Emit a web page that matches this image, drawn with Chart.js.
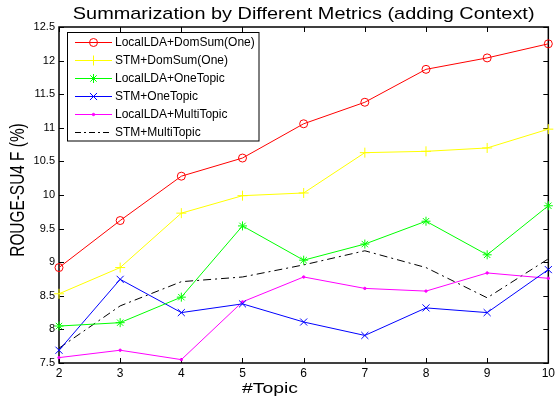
<!DOCTYPE html>
<html><head><meta charset="utf-8">
<script src="https://cdn.jsdelivr.net/npm/chart.js@4/dist/chart.umd.min.js"></script>
<style>html,body{margin:0;padding:0;background:#fff;} #wrap{width:558px;height:400px;}</style>
</head><body><div id="wrap"><canvas id="c" width="558" height="400"></canvas></div>
<script>
// ---- data ----
const topics = [2, 3, 4, 5, 6, 7, 8, 9, 10];
const localLdaDomSum     = [8.92, 9.62, 10.28, 10.55, 11.06, 11.38, 11.87, 12.04, 12.25];
const stmDomSum          = [8.53, 8.92, 9.73, 9.99, 10.03, 10.63, 10.65, 10.70, 10.98];
const localLdaOneTopic   = [8.05, 8.10, 8.48, 9.54, 9.03, 9.27, 9.61, 9.11, 9.84];
const stmOneTopic        = [7.69, 8.745, 8.25, 8.38, 8.11, 7.91, 8.32, 8.25, 8.89];
const localLdaMultiTopic = [7.58, 7.69, 7.55, 8.41, 8.78, 8.61, 8.57, 8.84, 8.76];
const stmMultiTopic      = [7.72, 8.35, 8.71, 8.78, 8.96, 9.17, 8.92, 8.47, 9.05];
const seriesNames = ['LocalLDA+DomSum(One)', 'STM+DomSum(One)', 'LocalLDA+OneTopic',
                     'STM+OneTopic', 'LocalLDA+MultiTopic', 'STM+MultiTopic'];
const yTickLabels = ['7.5', '8', '8.5', '9', '9.5', '10', '10.5', '11', '11.5', '12', '12.5'];
const xTickLabels = ['2', '3', '4', '5', '6', '7', '8', '9', '10'];
const yTickMin = 7.5, yTickMax = 12.5, yTickStep = 0.5;
const xTickMin = 2, xTickMax = 10, xTickStep = 1;
const chartTitle = 'Summarization by Different Metrics (adding Context)';
const xTitle = '#Topic';
const yTitle = 'ROUGE-SU4 F (%)';

const FONT = '"Liberation Sans", Arial, Helvetica, sans-serif';
const pts = arr => topics.map((t, i) => ({x: t, y: arr[i]}));

const styles = [
  {color: '#ff0000', pointStyle: 'circle', radius: 4, fill: 'rgba(0,0,0,0)', dash: []},
  {color: '#ffff00', pointStyle: 'cross', radius: 5, fill: '#ffff00', dash: []},
  {color: '#00ff00', pointStyle: 'star', radius: 4.5, fill: '#00ff00', dash: []},
  {color: '#0000ff', pointStyle: 'crossRot', radius: 5, fill: '#0000ff', dash: []},
  {color: '#ff00ff', pointStyle: 'circle', radius: 1.2, fill: '#ff00ff', dash: []},
  {color: '#000000', pointStyle: false, radius: 0, fill: '#000', dash: [8, 4, 2, 4]}
];
const seriesData = [localLdaDomSum, stmDomSum, localLdaOneTopic, stmOneTopic, localLdaMultiTopic, stmMultiTopic];

const datasets = seriesData.map((d, i) => ({
  label: seriesNames[i],
  data: pts(d),
  borderColor: styles[i].color,
  backgroundColor: styles[i].fill,
  borderWidth: 1,
  borderDash: styles[i].dash,
  pointStyle: styles[i].pointStyle,
  pointRadius: styles[i].radius,
  pointBorderColor: styles[i].color,
  pointBackgroundColor: styles[i].fill,
  pointBorderWidth: 1,
  pointHoverRadius: styles[i].radius,
  tension: 0,
  clip: false
}));

function stretchedText(ctx, text, x, y, size, sx, rot) {
  ctx.save();
  ctx.translate(x, y);
  if (rot) ctx.rotate(rot);
  ctx.scale(sx, 1);
  ctx.font = size + 'px ' + FONT;
  ctx.fillStyle = '#000';
  ctx.textAlign = 'center';
  ctx.textBaseline = 'alphabetic';
  ctx.fillText(text, 0, 0);
  ctx.restore();
}

function drawMarker(ctx, style, x, y) {
  if (!style.pointStyle) return;
  if (Chart.helpers && Chart.helpers.drawPoint) {
    ctx.save();
    ctx.strokeStyle = style.color;
    ctx.fillStyle = style.fill;
    ctx.lineWidth = 1;
    Chart.helpers.drawPoint(ctx, {pointStyle: style.pointStyle, radius: style.radius, rotation: 0, borderWidth: 1}, x, y);
    ctx.restore();
  }
}

const framePlugin = {
  id: 'frame',
  beforeDatasetsDraw(chart) {
    const {ctx, chartArea: a, scales: {x, y}} = chart;
    ctx.save();
    ctx.strokeStyle = '#000';
    ctx.lineWidth = 1;
    ctx.beginPath();
    x.ticks.forEach(t => {
      const px = Math.round(x.getPixelForValue(t.value)) + 0.5;
      ctx.moveTo(px, a.bottom); ctx.lineTo(px, a.bottom - 5);
      ctx.moveTo(px, a.top); ctx.lineTo(px, a.top + 5);
    });
    y.ticks.forEach(t => {
      const py = Math.round(y.getPixelForValue(t.value)) + 0.5;
      ctx.moveTo(a.left, py); ctx.lineTo(a.left + 5, py);
      ctx.moveTo(a.right, py); ctx.lineTo(a.right - 5, py);
    });
    ctx.stroke();
    ctx.lineWidth = 1.5;
    ctx.strokeRect(a.left, a.top, a.right - a.left, a.bottom - a.top);
    ctx.restore();
  },
  afterDraw(chart) {
    const {ctx, chartArea: a} = chart;
    const cx = (a.left + a.right) / 2;
    stretchedText(ctx, chartTitle, cx, 18.5, 17, 1.17, 0);
    stretchedText(ctx, xTitle, 270, 392.5, 15, 1.29, 0);
    stretchedText(ctx, yTitle, 24, 190, 20, 0.77, -Math.PI / 2);

    // legend box
    const bx = 67.5, by = 32.5, bw = 191.5, bh = 108.5;
    ctx.save();
    ctx.fillStyle = '#fff';
    ctx.fillRect(bx, by, bw, bh);
    ctx.strokeStyle = '#000';
    ctx.lineWidth = 1;
    ctx.strokeRect(bx, by, bw, bh);
    chart.data.datasets.forEach((ds, i) => {
      const yy = 42 + i * 18;
      ctx.save();
      ctx.strokeStyle = styles[i].color;
      ctx.lineWidth = 1;
      ctx.setLineDash(styles[i].dash.length ? [6, 3, 2, 3] : []);
      ctx.beginPath();
      ctx.moveTo(75, yy + 0.5); ctx.lineTo(112, yy + 0.5);
      ctx.stroke();
      ctx.restore();
      drawMarker(ctx, styles[i], 93.5, yy + 0.5);
      ctx.font = '12px ' + FONT;
      ctx.fillStyle = '#000';
      ctx.textAlign = 'left';
      ctx.textBaseline = 'middle';
      ctx.fillText(ds.label, 115, yy + 1);
    });
    ctx.restore();
  }
};

new Chart(document.getElementById('c'), {
  type: 'line',
  data: {datasets},
  options: {
    responsive: false,
    animation: false,
    events: [],
    layout: {padding: {left: 0, right: 7, top: 27, bottom: 0}},
    plugins: {legend: {display: false}, title: {display: false}, tooltip: {enabled: false}},
    scales: {
      x: {
        type: 'linear', min: xTickMin, max: xTickMax,
        ticks: {stepSize: xTickStep, color: '#000', font: {size: 12, family: FONT}, padding: 3, maxRotation: 0,
                callback: (v, i) => xTickLabels[i]},
        grid: {display: false, drawTicks: false},
        border: {display: false},
        afterFit(s) { s.height = 37; }
      },
      y: {
        type: 'linear', min: yTickMin, max: yTickMax,
        ticks: {stepSize: yTickStep, color: '#000', font: {size: 11, family: FONT}, padding: 4,
                callback: (v, i) => yTickLabels[i]},
        grid: {display: false, drawTicks: false},
        border: {display: false},
        afterFit(s) { s.width = 59; }
      }
    }
  },
  plugins: [framePlugin]
});
</script>
</body></html>
